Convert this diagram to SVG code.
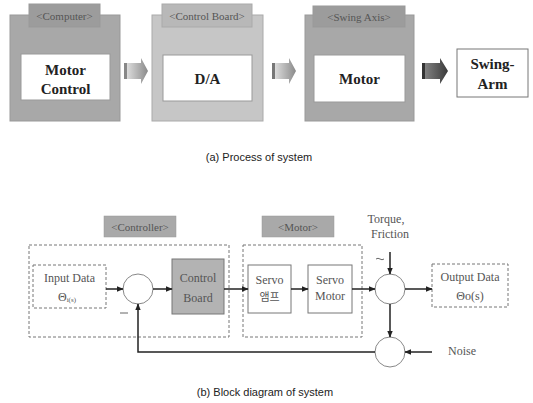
<svg xmlns="http://www.w3.org/2000/svg" width="533" height="403" viewBox="0 0 533 403">
  <defs>
    <linearGradient id="arrowLight" x1="0" y1="0" x2="1" y2="0">
      <stop offset="0" stop-color="#e8e8e8"/>
      <stop offset="1" stop-color="#8a8a8a"/>
    </linearGradient>
    <linearGradient id="arrowDark" x1="0" y1="0" x2="1" y2="0">
      <stop offset="0" stop-color="#8a8a8a"/>
      <stop offset="1" stop-color="#3a3a3a"/>
    </linearGradient>
    <marker id="head" viewBox="0 0 10 10" refX="9" refY="5" markerWidth="7" markerHeight="7" orient="auto" markerUnits="userSpaceOnUse">
      <path d="M0,1 L10,5 L0,9 Z" fill="#222"/>
    </marker>
    <style>
      .tab { font-family: "Liberation Serif", "DejaVu Serif", serif; font-size: 11px; fill: #555; text-anchor: middle; }
      .big { font-family: "Liberation Serif", "DejaVu Serif", serif; font-size: 15px; font-weight: bold; fill: #222; text-anchor: middle; }
      .cap { font-family: "Liberation Sans", Arial, sans-serif; font-size: 11px; fill: #222; text-anchor: middle; }
      .lbl { font-family: "Liberation Serif", "DejaVu Serif", serif; font-size: 12px; fill: #555; text-anchor: middle; }
      .kr { font-family: "Noto Sans CJK KR", sans-serif; font-size: 11px; fill: #555; text-anchor: middle; }
      .inner { fill: #fff; stroke: #999; stroke-width: 1; }
      .dash { fill: none; stroke: #777; stroke-width: 1; stroke-dasharray: 3 2; }
      .blk { fill: #fff; stroke: #777; stroke-width: 1; }
      .sum { fill: #fff; stroke: #888; stroke-width: 1; }
      .wire { fill: none; stroke: #222; stroke-width: 1.5; }
      .btab { fill: #a9a9a9; stroke: #999; stroke-width: 0.5; }
    </style>
  </defs>

  <!-- (a) process of system -->
  <g id="computer">
    <rect x="10" y="15" width="110" height="106" fill="#a8a8a8" stroke="#999"/>
    <rect x="29" y="4" width="71" height="23" fill="#9c9c9c" stroke="#999"/>
    <text class="tab" x="64.5" y="20">&lt;Computer&gt;</text>
    <rect class="inner" x="21" y="54" width="89" height="46"/>
    <text class="big" x="65.5" y="75">Motor</text>
    <text class="big" x="65.5" y="94">Control</text>
  </g>
  <g id="control-board">
    <rect x="152" y="15" width="111" height="106" fill="#c6c6c6" stroke="#aaa"/>
    <rect x="162" y="4" width="90" height="23" fill="#b8b8b8" stroke="#aaa"/>
    <text class="tab" x="207" y="20">&lt;Control Board&gt;</text>
    <rect class="inner" x="163" y="55" width="89" height="46"/>
    <text class="big" x="207.5" y="84">D/A</text>
  </g>
  <g id="swing-axis">
    <rect x="305" y="15" width="109" height="106" fill="#a8a8a8" stroke="#999"/>
    <rect x="313" y="6" width="92" height="21" fill="#9c9c9c" stroke="#999"/>
    <text class="tab" x="359" y="21">&lt;Swing Axis&gt;</text>
    <rect class="inner" x="314" y="55" width="91" height="47"/>
    <text class="big" x="359.5" y="84">Motor</text>
  </g>
  <g id="swing-arm">
    <rect class="blk" x="457" y="49" width="71" height="48"/>
    <text class="big" x="492.5" y="69">Swing-</text>
    <text class="big" x="492.5" y="89">Arm</text>
  </g>
  <g id="flow-arrows">
    <path d="M124,63 H141 V58 L148,71 L141,84 V79 H124 Z" fill="url(#arrowLight)"/>
    <rect x="124" y="63" width="3" height="16" fill="#888"/>
    <path d="M272,63 H289 V58 L296,71 L289,84 V79 H272 Z" fill="url(#arrowLight)"/>
    <rect x="272" y="63" width="3" height="16" fill="#777"/>
    <path d="M422,63 H440 V58 L448,71 L440,84 V79 H422 Z" fill="url(#arrowDark)"/>
    <rect x="422" y="63" width="3" height="16" fill="#333"/>
  </g>
  <text class="cap" x="259" y="161">(a) Process of system</text>

  <!-- (b) block diagram of system -->
  <g id="controller">
    <rect class="btab" x="104" y="216" width="72" height="21"/>
    <text class="tab" x="140" y="231">&lt;Controller&gt;</text>
    <rect class="dash" x="29" y="245" width="200" height="92"/>
  </g>
  <g id="motor">
    <rect class="btab" x="262" y="216" width="72" height="21"/>
    <text class="tab" x="298" y="231">&lt;Motor&gt;</text>
    <rect class="dash" x="243" y="245" width="119" height="92"/>
  </g>
  <g id="input-data">
    <rect class="dash" x="33" y="265" width="73" height="43"/>
    <text class="lbl" x="69.5" y="282">Input Data</text>
    <text class="lbl" x="67" y="301" font-size="10">Θ<tspan font-size="7" dy="1">i(s)</tspan></text>
  </g>
  <g id="sum-error">
    <circle class="sum" cx="138" cy="289" r="15"/>
    <line x1="120" y1="313" x2="128" y2="313" stroke="#666" stroke-width="1"/>
  </g>
  <g id="control-board-block">
    <rect x="172" y="259" width="52" height="55" fill="#b3b3b3" stroke="#777"/>
    <text class="lbl" x="198" y="282">Control</text>
    <text class="lbl" x="198" y="302">Board</text>
  </g>
  <g id="servo-amp">
    <rect class="blk" x="248" y="265" width="43" height="48"/>
    <text class="lbl" x="269.5" y="284">Servo</text>
    <text class="kr" x="269.5" y="301">앰프</text>
  </g>
  <g id="servo-motor">
    <rect class="blk" x="308" y="265" width="44" height="48"/>
    <text class="lbl" x="330" y="284">Servo</text>
    <text class="lbl" x="330" y="300">Motor</text>
  </g>
  <g id="sum-disturbance">
    <circle class="sum" cx="390" cy="289" r="15"/>
    <text class="lbl" x="386" y="223">Torque,</text>
    <text class="lbl" x="390" y="238">Friction</text>
    <path d="M376,259 q2,-1.5 4,0 t4,0" fill="none" stroke="#666" stroke-width="1"/>
  </g>
  <g id="output-data">
    <rect class="dash" x="432" y="264" width="76" height="43"/>
    <text class="lbl" x="470" y="281">Output Data</text>
    <text class="lbl" x="470" y="300">Θo(s)</text>
  </g>
  <g id="sum-noise">
    <circle class="sum" cx="390" cy="352" r="15"/>
    <text class="lbl" x="462" y="355">Noise</text>
  </g>
  <g id="connectors">
    <line class="wire" x1="106" y1="289" x2="123" y2="289" marker-end="url(#head)"/>
    <line class="wire" x1="153" y1="289" x2="172" y2="289" marker-end="url(#head)"/>
    <line class="wire" x1="224" y1="289" x2="248" y2="289" marker-end="url(#head)"/>
    <line class="wire" x1="291" y1="289" x2="308" y2="289" marker-end="url(#head)"/>
    <line class="wire" x1="352" y1="289" x2="375" y2="289" marker-end="url(#head)"/>
    <line class="wire" x1="405" y1="289" x2="432" y2="289" marker-end="url(#head)"/>
    <line class="wire" x1="390" y1="252" x2="390" y2="274" marker-end="url(#head)"/>
    <line class="wire" x1="390" y1="304" x2="390" y2="337" marker-end="url(#head)"/>
    <line class="wire" x1="432" y1="352" x2="405" y2="352" marker-end="url(#head)"/>
    <polyline class="wire" points="375,352 138,352 138,304" marker-end="url(#head)"/>
  </g>
  <text class="cap" x="265" y="396" font-size="11.5">(b) Block diagram of system</text>
</svg>
